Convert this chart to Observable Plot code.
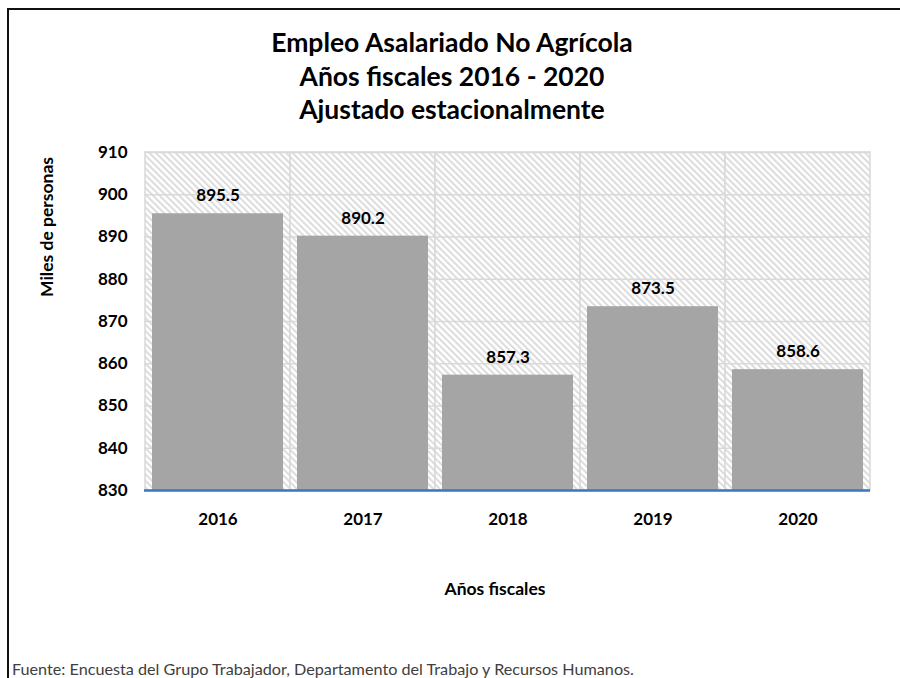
<!DOCTYPE html>
<html><head><meta charset="utf-8">
<script src="https://cdn.jsdelivr.net/npm/d3@7"></script>
<script src="https://cdn.jsdelivr.net/npm/@observablehq/plot@0.6"></script>
<style>
body{margin:0;background:#fff;font-family:Lato,"Open Sans",sans-serif;}
#page{position:relative;width:900px;height:678px;overflow:hidden;background:#fff;}
#border{position:absolute;left:7px;top:8px;width:1000px;height:1000px;border-left:2px solid #111;border-top:2px solid #111;}
#title{position:absolute;left:0;width:904px;top:26px;text-align:center;font-weight:700;font-size:26.5px;line-height:33.5px;color:#000;}
#chart{position:absolute;left:0;top:135px;}
#ylabel{position:absolute;left:46px;top:227px;transform:translate(-50%,-50%) rotate(-90deg);font-weight:700;font-size:17.5px;white-space:nowrap;color:#000;}
#xlabel{position:absolute;left:495px;top:588px;transform:translate(-50%,-50%);font-weight:700;font-size:17.5px;white-space:nowrap;color:#000;}
#caption{position:absolute;left:12px;top:668px;transform:translateY(-50%);font-size:16.2px;color:#404040;white-space:nowrap;}
</style></head>
<body>
<div id="page">
  <div id="border"></div>
  <div id="title">Empleo Asalariado No Agrícola<br>Años fiscales 2016 - 2020<br>Ajustado estacionalmente</div>
  <div id="chart"></div>
  <div id="ylabel">Miles de personas</div>
  <div id="xlabel">Años fiscales</div>
  <div id="caption">Fuente: Encuesta del Grupo Trabajador, Departamento del Trabajo y Recursos Humanos.</div>
</div>
<script>
const years = ["2016", "2017", "2018", "2019", "2020"];
const values = [895.5, 890.2, 857.3, 873.5, 858.6];
const yDomain = [830, 910];
const yTicks = [830, 840, 850, 860, 870, 880, 890, 900, 910];

const data = years.map((y, i) => ({year: y, value: values[i]}));

const chart = Plot.plot({
  width: 900,
  height: 480,
  marginTop: 17,
  marginBottom: 125,
  marginLeft: 144,
  marginRight: 30,
  style: {fontFamily: "Lato, 'Open Sans', sans-serif", fontSize: "17px", fontWeight: "bold", color: "#000", background: "transparent"},
  x: {domain: years, padding: 0, label: null, tickSize: 0, tickPadding: 22},
  y: {domain: yDomain, ticks: yTicks, label: null, tickSize: 0, tickPadding: 17},
  marks: [
    Plot.cell(years, {x: d => d, fill: "url(#hatch)", stroke: "#d9d9d9", strokeWidth: 1.5}),
    Plot.gridY(yTicks, {stroke: "#d9d9d9", strokeOpacity: 1, strokeWidth: 1.5}),
    Plot.barY(data, {x: "year", y1: yDomain[0], y2: "value", fill: "#a5a5a5", insetLeft: 7, insetRight: 7}),
    Plot.ruleY([yDomain[0]], {stroke: "#3a78c2", strokeWidth: 2.5}),
    Plot.text(data, {x: "year", y: "value", text: d => d.value.toFixed(1), dy: -18, fill: "#000", fontSize: 17, fontWeight: "bold"})
  ]
});

const svg = d3.select(chart);
const defs = svg.insert("defs", ":first-child");
const pat = defs.append("pattern")
  .attr("id", "hatch")
  .attr("patternUnits", "userSpaceOnUse")
  .attr("width", 4.6)
  .attr("height", 4.6)
  .attr("patternTransform", "rotate(-45)");
pat.append("rect").attr("width", 4.6).attr("height", 4.6).attr("fill", "#ffffff");
pat.append("rect").attr("width", 2).attr("height", 4.6).attr("fill", "#dcdcdc");

document.getElementById("chart").appendChild(chart);
</script>
</body></html>
